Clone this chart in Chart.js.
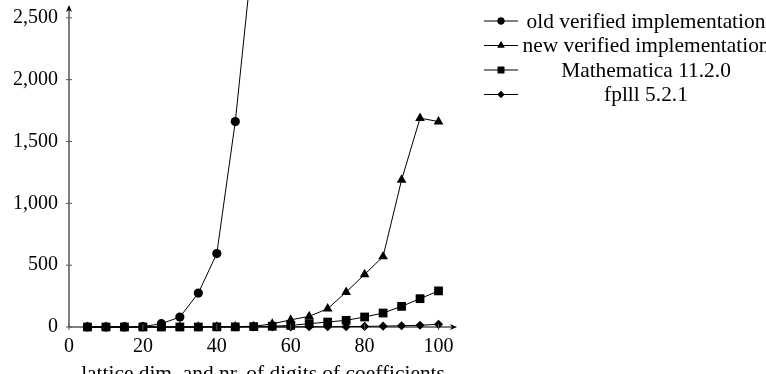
<!DOCTYPE html>
<html>
<head>
<meta charset="utf-8">
<script src="https://cdn.jsdelivr.net/npm/chart.js@4.4.1/dist/chart.umd.min.js"></script>
<style>
  html, body { margin: 0; padding: 0; background: #fff; }
  #wrap { width: 766px; height: 374px; position: relative; }
</style>
</head>
<body>
<div id="wrap"><canvas id="timing" width="766" height="374"></canvas></div>
<script>
// lattice dimension (= number of digits of coefficients)
const dims = [5, 10, 15, 20, 25, 30, 35, 40, 45, 50, 55, 60, 65, 70, 75, 80, 85, 90, 95, 100];

const oldVerified = [0, 0, 1, 3, 27, 80, 274, 594, 1661, 3100];
const newVerified = [0, 0, 0, 0, 0, 1, 1, 2, 3, 6, 25, 58, 86, 148, 282, 425, 570, 1189, 1689, 1661];
const mathematica = [0, 0, 0, 0, 0, 0, 0, 1, 1, 3, 6, 13, 27, 40, 54, 81, 113, 167, 229, 292];
const fplll = [0, 0, 0, 0, 0, 0, 0, 0, 0, 1, 1, 1, 2, 2, 3, 5, 7, 10, 14, 22];

const seriesNames = ['old verified implementation', 'new verified implementation', 'Mathematica 11.2.0', 'fplll 5.2.1'];
const markers = ['circle', 'triangle', 'rect', 'rectRot'];

const xTicks = [0, 20, 40, 60, 80, 100];
const yTicks = [0, 500, 1000, 1500, 2000, 2500];
const yTickLabels = ['0', '500', '1,000', '1,500', '2,000', '2,500'];
const xTitle = 'lattice dim. and nr. of digits of coefficients';

const FONT = '"Liberation Serif", "DejaVu Serif", serif';

function toPoints(vals) {
  return vals.map((v, i) => ({ x: dims[i], y: v }));
}

function series(i, vals, radius) {
  return {
    label: seriesNames[i],
    data: toPoints(vals),
    borderColor: '#000',
    backgroundColor: '#000',
    borderWidth: 1,
    pointStyle: markers[i],
    pointRadius: radius,
    pointBorderWidth: 0,
    tension: 0,
    clip: false,
    order: 4 - i
  };
}

// axis lines with arrows, tick marks and the legend, pgfplots style
const axesAndLegend = {
  id: 'axesAndLegend',
  afterDatasetsDraw(chart) {
    const { ctx, chartArea, scales } = chart;
    const x0 = chartArea.left, y0 = scales.y.getPixelForValue(0);
    const xEnd = chartArea.right, yEnd = 5;
    ctx.save();
    ctx.strokeStyle = '#000';
    ctx.fillStyle = '#000';
    ctx.lineWidth = 1;
    ctx.beginPath();
    ctx.moveTo(x0, y0); ctx.lineTo(xEnd - 2, y0);
    ctx.moveTo(x0, y0); ctx.lineTo(x0, yEnd + 2);
    ctx.stroke();
    // arrow heads
    ctx.beginPath();
    ctx.moveTo(xEnd, y0); ctx.lineTo(xEnd - 7, y0 - 3); ctx.lineTo(xEnd - 5, y0); ctx.lineTo(xEnd - 7, y0 + 3); ctx.closePath();
    ctx.moveTo(x0, yEnd); ctx.lineTo(x0 - 3, yEnd + 7); ctx.lineTo(x0, yEnd + 5); ctx.lineTo(x0 + 3, yEnd + 7); ctx.closePath();
    ctx.fill();
    // tick marks
    ctx.strokeStyle = '#555';
    ctx.beginPath();
    xTicks.forEach(t => {
      const px = scales.x.getPixelForValue(t);
      ctx.moveTo(px, y0 - 3); ctx.lineTo(px, y0 + 3);
    });
    yTicks.forEach(t => {
      const py = scales.y.getPixelForValue(t);
      ctx.moveTo(x0 - 3, py); ctx.lineTo(x0 + 3, py);
    });
    ctx.stroke();

    // legend
    ctx.strokeStyle = '#000';
    ctx.font = '21.4px ' + FONT;
    ctx.textAlign = 'center';
    ctx.textBaseline = 'middle';
    chart.data.datasets.forEach((ds, i) => {
      const ly = 21 + i * 24.5;
      ctx.beginPath();
      ctx.moveTo(484, ly); ctx.lineTo(518, ly);
      ctx.stroke();
      Chart.helpers.drawPoint(ctx, { pointStyle: ds.pointStyle, radius: ds.pointRadius * 0.75, borderWidth: 0 }, 501, ly);
      ctx.fill();
      ctx.fillText(ds.label, 646, ly + 1);
    });
    ctx.restore();
  }
};

new Chart(document.getElementById('timing'), {
  type: 'line',
  data: {
    datasets: [
      series(0, oldVerified, 4.6),
      series(1, newVerified, 5.6),
      series(2, mathematica, 6.2),
      series(3, fplll, 4.6)
    ]
  },
  options: {
    responsive: false,
    animation: false,
    events: [],
    layout: { padding: { left: 12, right: 309, top: 5, bottom: -13 } },
    plugins: { legend: { display: false }, tooltip: { enabled: false } },
    scales: {
      x: {
        type: 'linear',
        min: 0,
        max: 105,
        grid: { display: false, drawTicks: false },
        border: { display: false },
        afterBuildTicks: s => { s.ticks = xTicks.map(v => ({ value: v })); },
        afterFit: s => { s.height = 60; },
        ticks: { color: '#000', font: { family: FONT, size: 20 }, padding: 8, maxRotation: 0, callback: v => String(v) },
        title: { display: true, text: xTitle, color: '#000', font: { family: FONT, size: 21.4 }, padding: { top: 4, bottom: 0 } }
      },
      y: {
        type: 'linear',
        min: 0,
        max: 2594,
        grid: { display: false, drawTicks: false },
        border: { display: false },
        afterBuildTicks: s => { s.ticks = yTicks.map(v => ({ value: v })); },
        afterFit: s => { s.width = 57; s.paddingTop = 0; s.paddingBottom = 0; },
        ticks: { color: '#000', font: { family: FONT, size: 20 }, padding: 11, callback: v => yTickLabels[yTicks.indexOf(v)] }
      }
    }
  },
  plugins: [axesAndLegend]
});
</script>
</body>
</html>
